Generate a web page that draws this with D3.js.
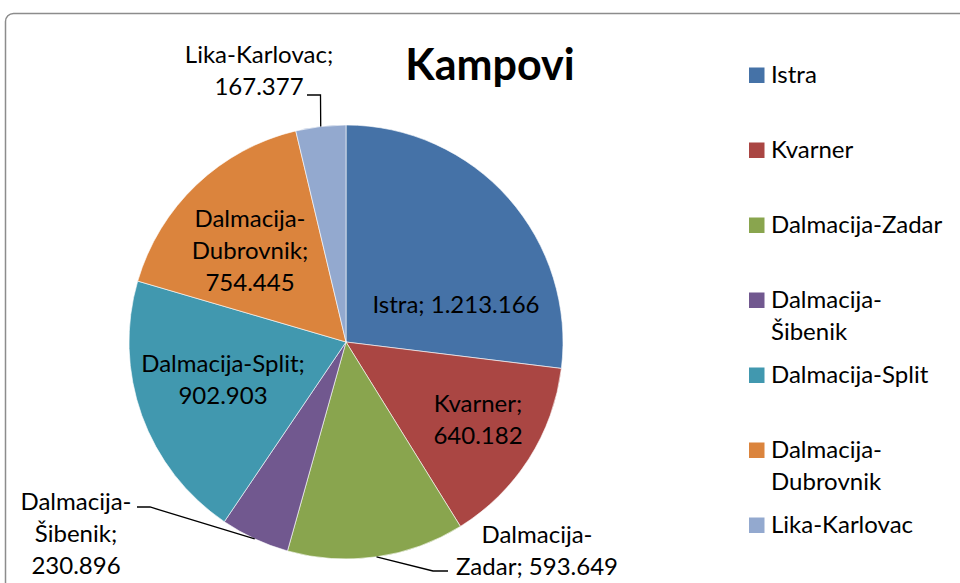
<!DOCTYPE html>
<html>
<head>
<meta charset="utf-8">
<script src="https://cdn.jsdelivr.net/npm/d3@7"></script>
<style>
  body { margin: 0; background: #fff; }
  svg text { font-family: Lato, "Open Sans", sans-serif; fill: #000; }
</style>
</head>
<body>
<div class="displayArea"></div>
<script>
// data
var regions = ["Istra", "Kvarner", "Dalmacija-Zadar", "Dalmacija-Šibenik", "Dalmacija-Split", "Dalmacija-Dubrovnik", "Lika-Karlovac"];
var kampovi = [1213166, 640182, 593649, 230896, 902903, 754445, 167377];
var colors = ["#4572A7", "#AA4643", "#89A54E", "#71588F", "#4198AF", "#DB843D", "#93A9CF"];
var title = "Kampovi";

var width = 960, height = 583,
    cx = 346, cy = 342, radius = 217;

// label layout: offset from centre of pie (x = centre of text, y = first baseline), token grouping per line
var labelPos = [
  { dx: 110, dy: -29, groups: [2] },
  { dx: 132, dy: 70, groups: [1, 1] },
  { dx: 191, dy: 201, groups: [1, 2], leader: [[87, 229], [102, 229]] },
  { dx: -270, dy: 168, groups: [1, 1, 1], leader: [[-196, 165], [-209, 165]] },
  { dx: -123, dy: 30, groups: [2, 1] },
  { dx: -96, dy: -115, groups: [1, 1, 1] },
  { dx: -87, dy: -279, groups: [2, 1], leader: [[-25.5, -247], [-39, -247]] }
];
var lineH = 32;
var fontSize = "24px";

var hr = d3.formatLocale({ decimal: ",", thousands: ".", grouping: [3], currency: ["", ""] });
var fmt = hr.format(",d");

var svg = d3.select(".displayArea").append("svg")
    .attr("width", width)
    .attr("height", height);

// chart frame
svg.append("rect")
    .attr("x", 5.5).attr("y", 13.5)
    .attr("width", 1000).attr("height", 1000)
    .attr("rx", 8)
    .attr("fill", "none")
    .attr("stroke", "#8c8c8c")
    .attr("stroke-width", 1.5);

svg.append("text")
    .attr("x", 490).attr("y", 80)
    .attr("text-anchor", "middle")
    .style("font-size", "43px")
    .style("font-weight", "bold")
    .text(title);

var pie = d3.pie().sort(null).value(function (d) { return d; });
var arcs = pie(kampovi);
var arc = d3.arc().innerRadius(0).outerRadius(radius);
var edgeArc = d3.arc().innerRadius(radius).outerRadius(radius);

var g = svg.append("g").attr("transform", `translate(${cx},${cy})`);

g.selectAll("path.slice")
    .data(arcs)
    .enter()
    .append("path")
    .attr("class", "slice")
    .attr("d", arc)
    .attr("fill", function (d, i) { return colors[i]; })
    .attr("stroke", "#fff")
    .attr("stroke-opacity", 0.6)
    .attr("stroke-width", 1);

// leader lines
arcs.forEach(function (d, i) {
  var lp = labelPos[i];
  if (!lp.leader) return;
  var p0 = edgeArc.centroid(d);
  var pts = [p0].concat(lp.leader);
  g.append("path")
      .attr("d", d3.line()(pts))
      .attr("fill", "none")
      .attr("stroke", "#000")
      .attr("stroke-width", 1.3);
});

// data labels
function tokens(name, value) {
  var parts = name.split("-");
  var t = [];
  parts.forEach(function (p, k) {
    t.push(k < parts.length - 1 ? p + "-" : p + ";");
  });
  t.push(fmt(value));
  return t;
}

arcs.forEach(function (d, i) {
  var lp = labelPos[i];
  var t = tokens(regions[i], kampovi[i]);
  var lines = [], k = 0;
  lp.groups.forEach(function (n) {
    var s = "";
    for (var j = 0; j < n; j++) {
      var tok = t[k++];
      s += (s === "" || s.endsWith("-")) ? tok : " " + tok;
    }
    lines.push(s);
  });
  var txt = g.append("text")
      .attr("text-anchor", "middle")
      .style("font-size", fontSize);
  lines.forEach(function (s, j) {
    txt.append("tspan")
        .attr("x", lp.dx)
        .attr("y", lp.dy + j * lineH)
        .text(s);
  });
});

// legend
var legend = svg.append("g").attr("transform", "translate(749,0)");
var legendMax = 178;
regions.forEach(function (name, i) {
  var by = 83 + i * 75;
  legend.append("rect")
      .attr("x", 0).attr("y", by - 15.5)
      .attr("width", 15.5).attr("height", 15.5)
      .attr("fill", colors[i]);
  var txt = legend.append("text")
      .attr("x", 22).attr("y", by)
      .style("font-size", fontSize)
      .text(name);
  if (txt.node().getComputedTextLength() > legendMax && name.indexOf("-") > 0) {
    var cut = name.indexOf("-") + 1;
    txt.text(null);
    txt.append("tspan").attr("x", 22).attr("y", by).text(name.slice(0, cut));
    txt.append("tspan").attr("x", 22).attr("y", by + lineH).text(name.slice(cut));
  }
});
</script>
</body>
</html>
